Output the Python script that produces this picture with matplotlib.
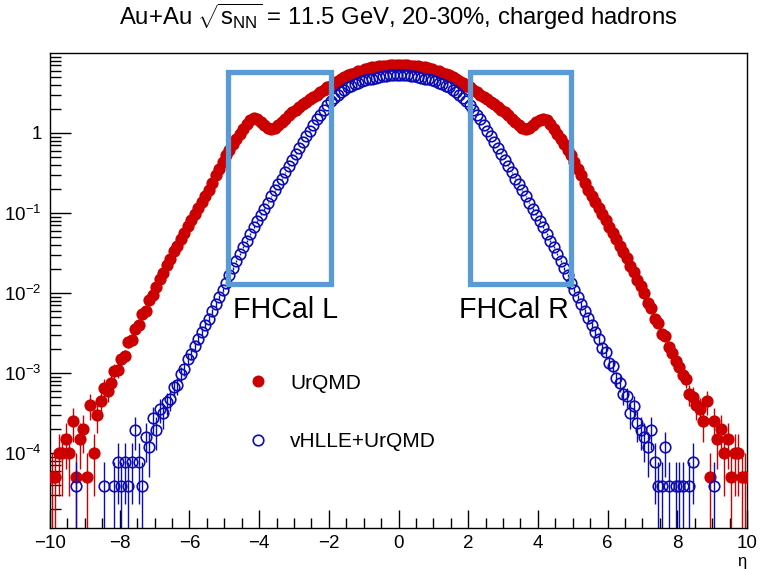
import matplotlib
matplotlib.use('Agg')
import matplotlib.pyplot as plt
import matplotlib.transforms as mtransforms
import numpy as np
from matplotlib import ticker
from matplotlib.lines import Line2D
from matplotlib.patches import Rectangle

plt.rcParams['font.family'] = ['Liberation Sans', 'DejaVu Sans']
plt.rcParams['mathtext.fontset'] = 'custom'
plt.rcParams['mathtext.rm'] = 'Liberation Sans'
plt.rcParams['mathtext.it'] = 'Liberation Sans:italic'
plt.rcParams['mathtext.bf'] = 'Liberation Sans:bold'

# ─── data: dN/dη, charged hadrons, bins of 0.1 in η ─────────────────────────

eta = np.round(np.arange(-9.95, 10.0, 0.1), 2)

# weight of a single entry (sets the Poisson errors)
urqmd_w = 5.0e-5
vhlle_w = 3.9e-5

urqmd = [
    5e-5, 5e-5, 1e-4, 1e-4, 1.5e-4, 1e-4, 2.5e-4, 5e-5, 1.5e-4, 2e-4,
    5e-5, 4e-4, 1e-4, 3e-4, 4.5e-4, 6.5e-4, 6e-4, 7.5e-4, 1.05e-3, 1.1e-3,
    1.5e-3, 1.65e-3, 2.4e-3, 2.6e-3, 3.5e-3, 4e-3, 5.4e-3, 6e-3, 8.25e-3, 9.5e-3,
    0.0118, 0.0151, 0.0180, 0.0222, 0.0265, 0.0330, 0.0385, 0.0472, 0.0555, 0.0680,
    0.0810, 0.0980, 0.114, 0.139, 0.161, 0.196, 0.239, 0.296, 0.354, 0.438,
    0.525, 0.617, 0.724, 0.851, 0.977, 1.12, 1.29, 1.47, 1.53, 1.50,
    1.38, 1.26, 1.15, 1.12, 1.15, 1.26, 1.38, 1.51, 1.66, 1.82,
    1.95, 2.14, 2.29, 2.45, 2.63, 2.82, 3.02, 3.24, 3.47, 3.72,
    3.89, 4.17, 4.47, 4.68, 5.01, 5.25, 5.50, 5.62, 5.89, 6.03,
    6.31, 6.46, 6.61, 6.76, 6.92, 6.92, 6.92, 7.08, 7.08, 7.08,
    7.08, 7.08, 7.08, 6.92, 6.92, 6.92, 6.76, 6.61, 6.46, 6.31,
    6.03, 5.89, 5.62, 5.50, 5.25, 5.01, 4.68, 4.47, 4.17, 3.89,
    3.72, 3.47, 3.24, 3.02, 2.82, 2.63, 2.45, 2.29, 2.14, 1.95,
    1.82, 1.66, 1.51, 1.38, 1.26, 1.15, 1.12, 1.15, 1.26, 1.38,
    1.45, 1.48, 1.45, 1.29, 1.12, 0.977, 0.851, 0.724, 0.617, 0.525,
    0.437, 0.355, 0.295, 0.240, 0.195, 0.162, 0.138, 0.115, 0.0977, 0.0813,
    0.0676, 0.0560, 0.0470, 0.0385, 0.0326, 0.0270, 0.0215, 0.0185, 0.0146, 0.0122,
    1e-2, 7.5e-3, 6.5e-3, 4.75e-3, 4.25e-3, 3.1e-3, 2.9e-3, 2.1e-3, 1.75e-3, 1.4e-3,
    1.2e-3, 9.5e-4, 8.5e-4, 5.5e-4, 5e-4, 4e-4, 3.5e-4, 2.5e-4, 4.5e-4, 5e-5,
    2.5e-4, 1.5e-4, 2e-4, 1e-4, 1.5e-4, 5e-5, 1e-4, 1e-4, 5e-5, 5e-5,
]

vhlle = [
    0, 0, 0, 0, 0, 0, 0, 3.9e-5, 0, 0,
    0, 0, 0, 0, 0, 3.9e-5, 0, 0, 3.9e-5, 7.8e-5,
    3.9e-5, 7.8e-5, 3.9e-5, 7.8e-5, 1.95e-4, 7.8e-5, 3.9e-5, 1.56e-4, 1.17e-4, 2.73e-4,
    1.95e-4, 3.51e-4, 3.12e-4, 4.29e-4, 4.68e-4, 6.63e-4, 7.02e-4, 9.75e-4, 1.13e-3, 1.48e-3,
    1.72e-3, 2.14e-3, 2.62e-3, 3.25e-3, 4.00e-3, 4.78e-3, 5.90e-3, 7.22e-3, 8.93e-3, 0.0110,
    0.0135, 0.0166, 0.0204, 0.0251, 0.0309, 0.0372, 0.0447, 0.0550, 0.0661, 0.0794,
    0.0955, 0.112, 0.135, 0.162, 0.191, 0.229, 0.269, 0.324, 0.389, 0.457,
    0.550, 0.646, 0.776, 0.912, 1.07, 1.26, 1.48, 1.70, 1.95, 2.24,
    2.51, 2.75, 3.02, 3.24, 3.47, 3.72, 3.89, 4.07, 4.27, 4.47,
    4.57, 4.68, 4.79, 4.90, 5.01, 5.13, 5.13, 5.25, 5.25, 5.25,
    5.25, 5.25, 5.25, 5.13, 5.13, 5.01, 4.90, 4.79, 4.68, 4.57,
    4.47, 4.27, 4.07, 3.89, 3.72, 3.47, 3.24, 3.02, 2.75, 2.51,
    2.24, 1.95, 1.70, 1.48, 1.26, 1.07, 0.912, 0.776, 0.646, 0.550,
    0.457, 0.389, 0.324, 0.269, 0.229, 0.191, 0.162, 0.135, 0.112, 0.0955,
    0.0794, 0.0661, 0.0550, 0.0447, 0.0372, 0.0309, 0.0251, 0.0204, 0.0166, 0.0135,
    0.0110, 8.91e-3, 7.24e-3, 5.89e-3, 4.79e-3, 3.98e-3, 3.24e-3, 2.63e-3, 2.03e-3, 1.83e-3,
    1.33e-3, 1.21e-3, 8.58e-4, 7.41e-4, 5.46e-4, 5.07e-4, 3.12e-4, 3.9e-4, 2.34e-4, 1.95e-4,
    1.56e-4, 1.17e-4, 1.95e-4, 7.8e-5, 3.9e-5, 3.9e-5, 1.17e-4, 3.9e-5, 0, 3.9e-5,
    3.9e-5, 3.9e-5, 0, 3.9e-5, 7.8e-5, 0, 0, 0, 0, 0,
    3.9e-5, 0, 0, 0, 0, 0, 0, 0, 0, 0,
]

fhcal_l = (-4.88, -1.95)
fhcal_r = (2.04, 4.95)

RED = '#cc0000'
BLUE = '#0c0cb4'
BOX = '#5b9bd5'
MS = 7.6


def draw_series(ax, x, y, w, color, filled):
    y = np.asarray(y, dtype=float)
    m = y > 0
    x, y = x[m], y[m]
    err = np.sqrt(y * w)
    lo = np.minimum(err, y * (1 - 1e-6))
    ax.errorbar(x, y, yerr=[lo, err], fmt='o', ms=MS,
                color=color, mec=color, mew=1.2,
                mfc=color if filled else 'none',
                elinewidth=1.0, capsize=0, zorder=3 if filled else 4)


fig = plt.figure(figsize=(7.76, 5.69), dpi=100)
ax = fig.add_axes([50 / 776, 41 / 569, 697 / 776, 475 / 569])

draw_series(ax, eta, urqmd, urqmd_w, RED, True)
draw_series(ax, eta, vhlle, vhlle_w, BLUE, False)

ax.set_yscale('log')
ax.set_xlim(-10, 10)
ax.set_ylim(1.15e-5, 10)

ax.xaxis.set_major_locator(ticker.MultipleLocator(2))
ax.xaxis.set_minor_locator(ticker.MultipleLocator(0.5))
ax.yaxis.set_major_locator(ticker.FixedLocator([1e-4, 1e-3, 1e-2, 1e-1, 1]))
ax.yaxis.set_minor_locator(ticker.LogLocator(base=10, subs=np.arange(2, 10)))
ax.yaxis.set_minor_formatter(ticker.NullFormatter())
ax.yaxis.set_major_formatter(ticker.FuncFormatter(
    lambda v, p: '1' if abs(v - 1) < 1e-9 else r'$10^{%d}$' % round(np.log10(v))))
ax.xaxis.set_major_formatter(ticker.FuncFormatter(
    lambda v, p: ('%d' % v).replace('-', '\u2212')))

ax.tick_params(which='both', direction='in', top=False, right=False,
               labelsize=13.5, width=1.0)
ax.tick_params(axis='y', which='major', length=15, pad=6)
ax.tick_params(axis='y', which='minor', length=8)
ax.tick_params(axis='x', which='major', length=13, pad=5)
ax.tick_params(axis='x', which='minor', length=7)
for s in ax.spines.values():
    s.set_linewidth(1.0)

ax.set_xlabel('η', fontsize=12)
ax.xaxis.label.set_va('center')
ax.xaxis.label.set_ha('center')
ax.xaxis.set_label_coords(0.992, -0.07)

fig.text(398.5 / 776, 1 - 25 / 569,
         r'Au+Au $\sqrt{\mathrm{s}_{\mathrm{NN}}}$ = 11.5 GeV, 20-30%, charged hadrons',
         ha='center', va='baseline', fontsize=17.2)

# FHCal acceptance boxes
trans = mtransforms.blended_transform_factory(ax.transData, ax.transAxes)
for (x0, x1) in (fhcal_l, fhcal_r):
    ax.add_patch(Rectangle((x0, 0.514), x1 - x0, 0.961 - 0.514, transform=trans,
                           fill=False, ec=BOX, lw=3.8, zorder=6, clip_on=False))
ax.text(0.2626, 0.442, 'FHCal L', transform=ax.transAxes, fontsize=20.6,
        ha='left', va='baseline', zorder=7)
ax.text(0.587, 0.442, 'FHCal R', transform=ax.transAxes, fontsize=20.6,
        ha='left', va='baseline', zorder=7)

handles = [
    Line2D([], [], ls='none', marker='o', ms=MS, color=RED, mfc=RED),
    Line2D([], [], ls='none', marker='o', ms=MS, color=BLUE, mfc='none', mew=1.2),
]
ax.legend(handles, ['UrQMD', 'vHLLE+UrQMD'], loc='upper left',
          bbox_to_anchor=(0.2835, 0.325), frameon=False, fontsize=15,
          handlelength=1.0, handletextpad=1.04, labelspacing=1.9,
          borderpad=0, borderaxespad=0)

fig.savefig('out.png', dpi=100)
